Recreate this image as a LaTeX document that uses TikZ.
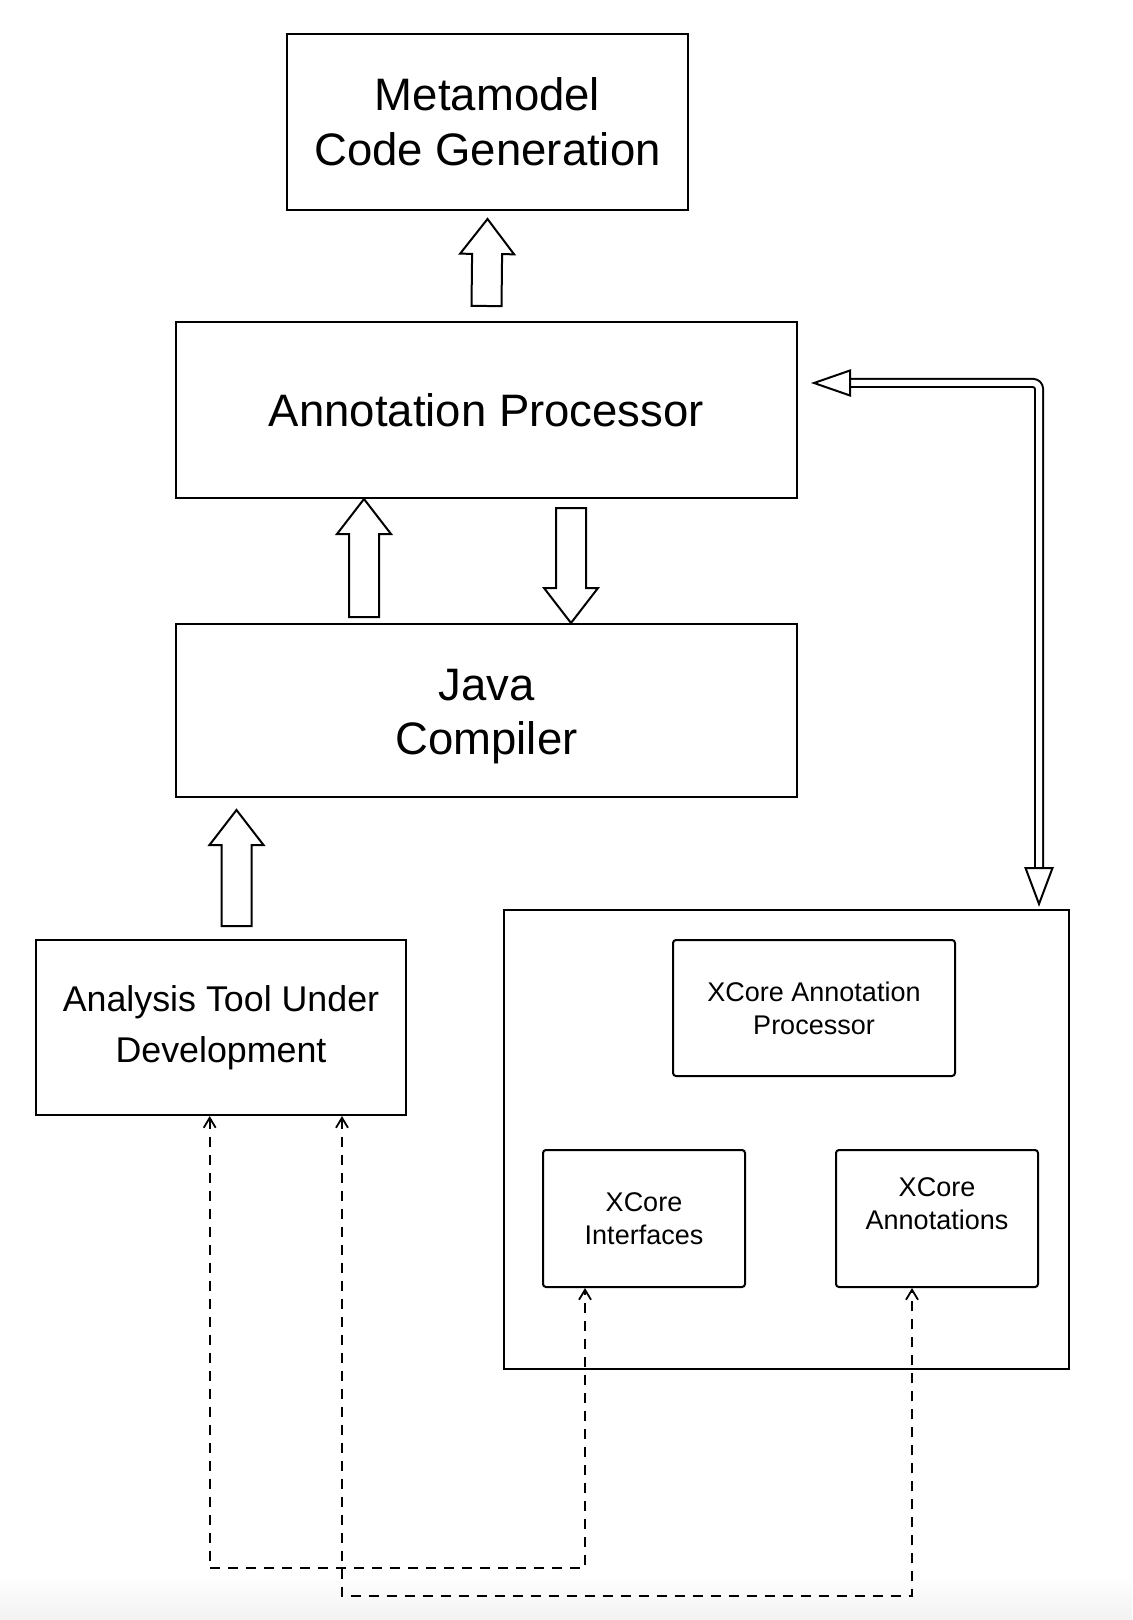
\documentclass[tikz,border=0pt]{standalone}
\usepackage{fontspec}
\setmainfont{Liberation Sans}
\usetikzlibrary{arrows.meta,calc}

% hollow block arrow from #1 (tail) to #2 (tip)
\newcommand{\blockarrow}[2]{%
  \coordinate (BAHead) at ($(#2)!17.5pt!(#1)$);
  \draw[blockarrow] ($(#1)!7.5pt!90:(#2)$) -- ($(BAHead)!7.5pt!90:(#2)$)
    -- ($(BAHead)!13.5pt!90:(#2)$) -- (#2) -- ($(BAHead)!13.5pt!-90:(#2)$)
    -- ($(BAHead)!7.5pt!-90:(#2)$) -- ($(#1)!7.5pt!-90:(#2)$) -- cycle;}

\begin{document}
\begin{tikzpicture}[x=0.5pt, y=-0.5pt,
    box/.style={draw, line width=1pt, align=center, inner sep=0pt},
    part/.style={box, rounded corners=1.5pt},
    big/.style={font=\fontsize{22.75}{27.4}\selectfont, align=center},
    mid/.style={font=\fontsize{17.9}{25.3}\selectfont},
    small/.style={font=\fontsize{13.5}{16.5}\selectfont, align=center},
    blockarrow/.style={draw, line width=1pt, fill=white, line join=miter},
    dbl/.style={double, double distance=3pt, line width=1pt},
    dep/.style={<->, >={Straight Barb[length=5pt,width=6pt]}, dash pattern=on 5pt off 4pt, line width=0.9pt}]
    \useasboundingbox (0,0) rectangle (1132,1620);
    \shade[top color=white, bottom color=black!5] (0,1575) rectangle (1132,1620);

    % Nodes
    \node[box, big, minimum width=200.5pt, minimum height=88pt] (Meta) at (487.5, 122) {Metamodel\\Code Generation};
    \node[box, big, minimum width=310.5pt, minimum height=88pt] (Proc) at (486.5, 410) {Annotation Processor};
    \node[box, minimum width=310.5pt, minimum height=86.5pt] (Java) at (486.5, 710.5) {};
    \node[big] (JavaText) at ([yshift=-3pt]Java.center) {Java\\Compiler};
    \node[box, mid, minimum width=185pt, minimum height=87.5pt] (Tool) at (221, 1027.5) {Analysis Tool Under\\Development};
    \node[box, minimum width=282.5pt, minimum height=229.5pt] (XCore) at (786.5, 1139.5) {};
    \node[part, small, minimum width=141pt, minimum height=68pt] (XProc) at (814, 1008) {XCore Annotation\\Processor};
    \node[part, small, minimum width=101pt, minimum height=68.5pt] (XIntf) at (644, 1218.5) {XCore\\Interfaces};
    \node[part, minimum width=101pt, minimum height=68.5pt] (XAnn) at (937, 1218.5) {};
    \node[small] (XAnnText) at ([yshift=7.25pt]XAnn.center) {XCore\\Annotations};

    % Block arrows
    \coordinate (GenTail) at ([yshift=7.5pt]Proc.north);
    \coordinate (GenTip) at ([yshift=-4pt]Meta.south);
    \blockarrow{GenTail}{GenTip}
    \coordinate (UpTail) at ([xshift=-61.25pt,yshift=3pt]Java.north);
    \coordinate (UpTip) at (UpTail |- Proc.south);
    \blockarrow{UpTail}{UpTip}
    \coordinate (DownTail) at ([xshift=42.25pt,yshift=-4.5pt]Proc.south);
    \coordinate (DownTip) at (DownTail |- Java.north);
    \blockarrow{DownTail}{DownTip}
    \coordinate (ToolTail) at ([xshift=7.75pt,yshift=6.5pt]Tool.north);
    \coordinate (ToolTip) at ($(ToolTail |- Java.south)+(0,-6pt)$);
    \blockarrow{ToolTail}{ToolTip}

    % Double arrow
    \coordinate (DLeft) at ($(Proc.east)+(8pt,13.5pt)$);
    \coordinate (DDown) at ($(XCore.north east)+(-15.5pt,2.5pt)$);
    \draw[dbl, rounded corners=3pt] ($(DLeft)+(17pt,0)$) -- (DLeft -| DDown) -- ($(DDown)+(0,17pt)$);
    \draw[blockarrow] (DLeft) -- ++(18pt,6.25pt) -- ++(0,-12.5pt) -- cycle;
    \draw[blockarrow] (DDown) -- ++(-6.75pt,18pt) -- ++(13.5pt,0) -- cycle;

    % Dashed arrows
    \coordinate (ToolA) at ([xshift=-5.65pt]Tool.south);
    \coordinate (ToolB) at ([xshift=60.5pt]Tool.south);
    \coordinate (IntfIn) at ([xshift=-29.5pt]XIntf.south);
    \coordinate (AnnIn) at ([xshift=-12.5pt]XAnn.south);
    \draw[dep] (ToolA) -- (ToolA |- 0,1568) -| (IntfIn);
    \draw[dep] (ToolB) -- (ToolB |- 0,1596) -| (AnnIn);
\end{tikzpicture}
\end{document}
